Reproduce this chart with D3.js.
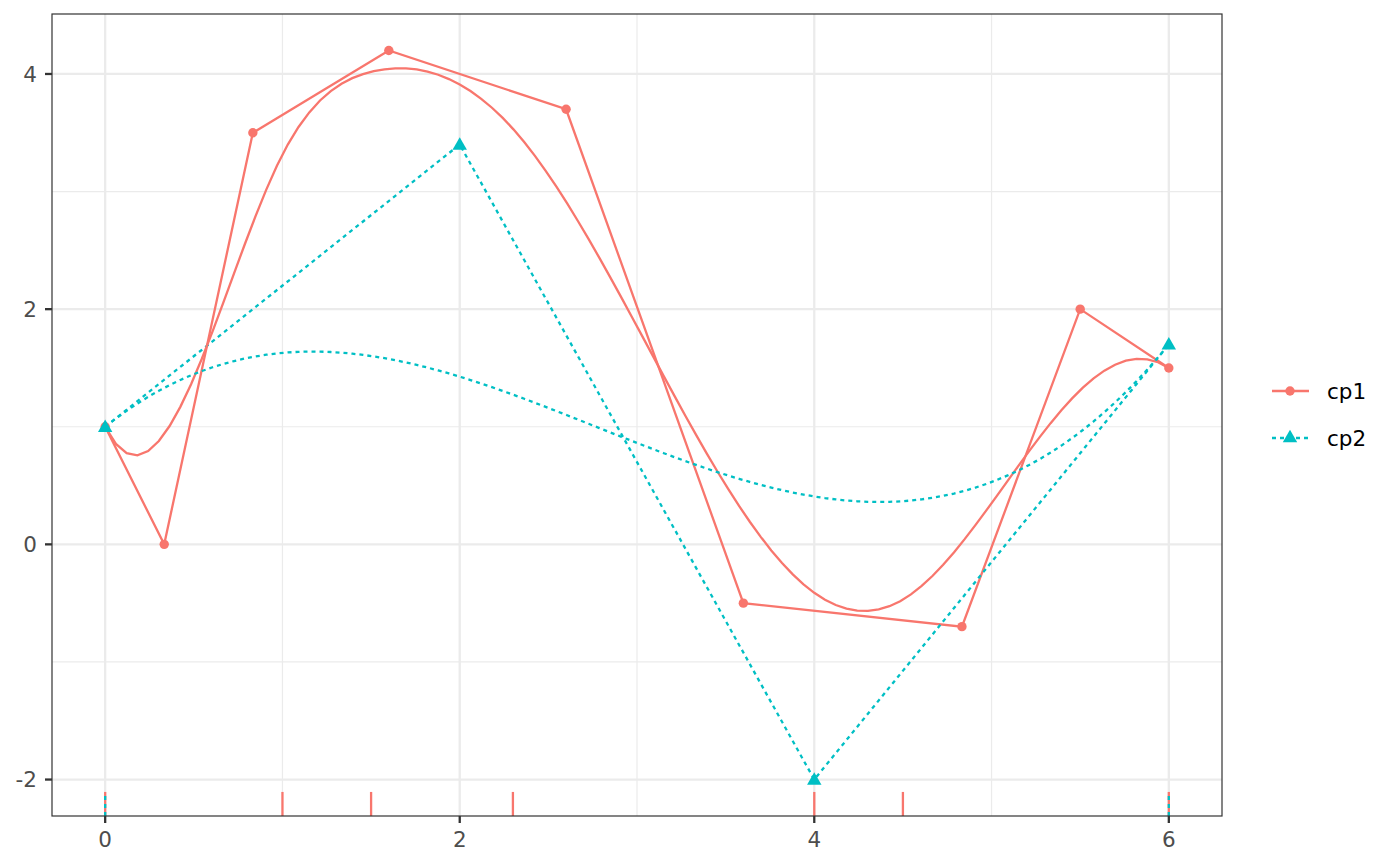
<!DOCTYPE html>
<html><head><meta charset="utf-8">
<script src="https://cdn.jsdelivr.net/npm/d3@7"></script>
<style>body{margin:0;background:#fff}</style>
</head><body>
<svg id="c" width="1400" height="866"></svg>
<script>
// Data
const cp1Knots = [0, 0, 0, 0, 1, 1.5, 2.3, 4, 4.5, 6, 6, 6, 6];
const cp1X = [0, 0.333, 0.833, 1.6, 2.6, 3.6, 4.833, 5.5, 6];
const cp1Y = [1, 0, 3.5, 4.2, 3.7, -0.5, -0.7, 2, 1.5];
const cp2Knots = [0, 0, 0, 0, 6, 6, 6, 6];
const cp2X = [0, 2, 4, 6];
const cp2Y = [1, 3.4, -2, 1.7];
const cp1Rug = [0, 1, 1.5, 2.3, 4, 4.5, 6];
const cp2Rug = [0, 6];
const xTicks = [0, 2, 4, 6];
const yTicks = [-2, 0, 2, 4];
const seriesNames = ["cp1", "cp2"];
const colors = ["#F8766D", "#00BFC4"];

const svg = d3.select("#c");
const L = 52, R = 1222, T = 14, B = 816;
const x = d3.scaleLinear().domain([-0.3, 6.3]).range([L, R]);
const y = d3.scaleLinear().domain([-2.31, 4.51]).range([B, T]);
const FONT = "DejaVu Sans", FS = 21.5, LW = 2.3;

// de Boor evaluation of the cubic B-spline defined by the knots and control values
function deBoor(t, knots, ctrl, p) {
  let k = p;
  for (let i = p; i < knots.length - p - 1; i++) if (t >= knots[i] && t < knots[i + 1]) k = i;
  if (t >= knots[knots.length - p - 1]) k = knots.length - p - 2;
  const d = [];
  for (let j = 0; j <= p; j++) d.push(ctrl[j + k - p]);
  for (let r = 1; r <= p; r++) {
    for (let j = p; j >= r; j--) {
      const a = (t - knots[j + k - p]) / (knots[j + 1 + k - r] - knots[j + k - p]);
      d[j] = (1 - a) * d[j - 1] + a * d[j];
    }
  }
  return d[p];
}
function splinePts(knots, cx, cy) {
  const n = 100, lo = knots[0], hi = knots[knots.length - 1];
  return d3.range(n).map(i => {
    const t = lo + (hi - lo) * i / (n - 1);
    return [deBoor(t, knots, cx, 3), deBoor(t, knots, cy, 3)];
  });
}

// panel background & grid
svg.append("rect").attr("x", L).attr("y", T).attr("width", R - L).attr("height", B - T).attr("fill", "#fff");
const g = svg.append("g");
[-1, 1, 3].forEach(v => g.append("line").attr("x1", L).attr("x2", R).attr("y1", y(v)).attr("y2", y(v)).attr("stroke", "#EBEBEB").attr("stroke-width", 1.2));
[1, 3, 5].forEach(v => g.append("line").attr("y1", T).attr("y2", B).attr("x1", x(v)).attr("x2", x(v)).attr("stroke", "#EBEBEB").attr("stroke-width", 1.2));
yTicks.forEach(v => g.append("line").attr("x1", L).attr("x2", R).attr("y1", y(v)).attr("y2", y(v)).attr("stroke", "#EBEBEB").attr("stroke-width", 2.3));
xTicks.forEach(v => g.append("line").attr("y1", T).attr("y2", B).attr("x1", x(v)).attr("x2", x(v)).attr("stroke", "#EBEBEB").attr("stroke-width", 2.3));

const line = d3.line().x(d => x(d[0])).y(d => y(d[1]));
const rugLen = (B - T) * 0.03;

// rugs
cp1Rug.forEach(v => svg.append("line").attr("x1", x(v)).attr("x2", x(v)).attr("y1", B).attr("y2", B - rugLen).attr("stroke", colors[0]).attr("stroke-width", LW));
cp2Rug.forEach(v => svg.append("line").attr("x1", x(v)).attr("x2", x(v)).attr("y1", B).attr("y2", B - rugLen).attr("stroke", colors[1]).attr("stroke-width", LW).attr("stroke-dasharray", "4,4"));

// control polygons
const cp1 = cp1X.map((v, i) => [v, cp1Y[i]]);
const cp2 = cp2X.map((v, i) => [v, cp2Y[i]]);
svg.append("path").attr("d", line(cp1)).attr("fill", "none").attr("stroke", colors[0]).attr("stroke-width", LW);
svg.append("path").attr("d", line(cp2)).attr("fill", "none").attr("stroke", colors[1]).attr("stroke-width", LW).attr("stroke-dasharray", "4,4");
// splines
svg.append("path").attr("d", line(splinePts(cp1Knots, cp1X, cp1Y))).attr("fill", "none").attr("stroke", colors[0]).attr("stroke-width", LW);
svg.append("path").attr("d", line(splinePts(cp2Knots, cp2X, cp2Y))).attr("fill", "none").attr("stroke", colors[1]).attr("stroke-width", LW).attr("stroke-dasharray", "4,4");

// points
const tri = d3.symbol().type(d3.symbolTriangle).size(90);
cp1.forEach(d => svg.append("circle").attr("cx", x(d[0])).attr("cy", y(d[1])).attr("r", 4.7).attr("fill", colors[0]));
cp2.forEach(d => svg.append("path").attr("d", tri()).attr("transform", `translate(${x(d[0])},${y(d[1]) + 1})`).attr("fill", colors[1]));

// border
svg.append("rect").attr("x", L).attr("y", T).attr("width", R - L).attr("height", B - T).attr("fill", "none").attr("stroke", "#333333").attr("stroke-width", 1.2);

// axes ticks and labels
xTicks.forEach(v => {
  svg.append("line").attr("x1", x(v)).attr("x2", x(v)).attr("y1", B).attr("y2", B + 7).attr("stroke", "#333").attr("stroke-width", 2.3);
  svg.append("text").attr("x", x(v)).attr("y", 847).attr("text-anchor", "middle").attr("font-family", FONT).attr("font-size", FS).attr("fill", "#4D4D4D").text(v);
});
yTicks.forEach(v => {
  svg.append("line").attr("x1", L - 7).attr("x2", L).attr("y1", y(v)).attr("y2", y(v)).attr("stroke", "#333").attr("stroke-width", 2.3);
  svg.append("text").attr("x", L - 15).attr("y", y(v)).attr("dy", "0.36em").attr("text-anchor", "end").attr("font-family", FONT).attr("font-size", FS).attr("fill", "#4D4D4D").text(v);
});

// legend
seriesNames.forEach((name, i) => {
  const ly = 391 + i * 47;
  const l = svg.append("line").attr("x1", 1272).attr("x2", 1309).attr("y1", ly).attr("y2", ly).attr("stroke", colors[i]).attr("stroke-width", LW);
  if (i === 1) l.attr("stroke-dasharray", "4,4");
  if (i === 0) svg.append("circle").attr("cx", 1290).attr("cy", ly).attr("r", 4.7).attr("fill", colors[i]);
  else svg.append("path").attr("d", tri()).attr("transform", `translate(1290,${ly})`).attr("fill", colors[i]);
  svg.append("text").attr("x", 1327).attr("y", ly).attr("dy", "0.36em").attr("font-family", FONT).attr("font-size", FS).attr("fill", "#000").text(name);
});
</script>
</body></html>
